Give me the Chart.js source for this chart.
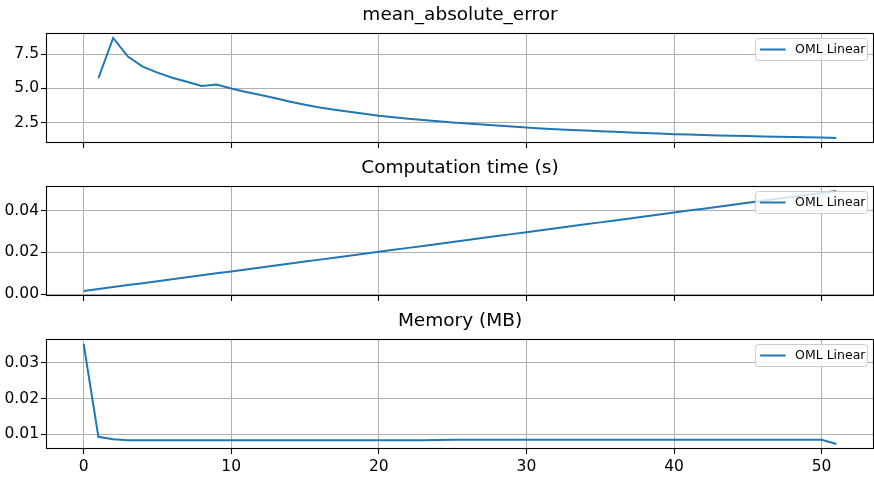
<!DOCTYPE html>
<html><head><meta charset="utf-8">
<script src="https://cdn.jsdelivr.net/npm/chart.js@4/dist/chart.umd.min.js"></script>
<style>
html,body{margin:0;padding:0;background:#fff;}
#wrap{position:relative;width:874px;height:480px;overflow:hidden;background:#fff;}
.p{position:absolute;left:0;width:874px;}
canvas{display:block;}
</style></head><body>
<div id="wrap">
<div class="p" style="top:0px;height:160px"><canvas id="c1" width="874" height="160"></canvas></div>
<div class="p" style="top:153px;height:160px"><canvas id="c2" width="874" height="160"></canvas></div>
<div class="p" style="top:306px;height:174px"><canvas id="c3" width="874" height="174"></canvas></div>
</div>
<script>
// ---- data ----
const steps = [0,1,2,3,4,5,6,7,8,9,10,11,12,13,14,15,16,17,18,19,20,21,22,23,24,25,26,27,28,29,30,31,32,33,34,35,36,37,38,39,40,41,42,43,44,45,46,47,48,49,50,51];
const seriesLabel = 'OML Linear';
const panelTitles = ['mean_absolute_error', 'Computation time (s)', 'Memory (MB)'];
const xTicks = [0, 10, 20, 30, 40, 50];
const maeValues = [null,5.74,8.68,7.32,6.59,6.15,5.78,5.49,5.17,5.29,5.00,4.74,4.52,4.28,4.03,3.80,3.60,3.44,3.30,3.15,3.01,2.90,2.79,2.69,2.60,2.51,2.44,2.37,2.30,2.22,2.14,2.08,2.02,1.97,1.92,1.87,1.83,1.79,1.74,1.70,1.66,1.63,1.60,1.57,1.54,1.52,1.49,1.47,1.45,1.43,1.41,1.38];
const timeValues = [0.00160,0.00254,0.00347,0.00441,0.00534,0.00628,0.00721,0.00815,0.00908,0.01002,0.01095,0.01189,0.01282,0.01376,0.01469,0.01563,0.01656,0.01750,0.01843,0.01937,0.02030,0.02124,0.02217,0.02311,0.02404,0.02498,0.02591,0.02685,0.02778,0.02872,0.02965,0.03059,0.03152,0.03246,0.03339,0.03433,0.03526,0.03620,0.03713,0.03807,0.03900,0.03994,0.04087,0.04181,0.04274,0.04368,0.04461,0.04555,0.04648,0.04742,0.04835,0.04929];
const memoryValues = [0.0353,0.0093,0.0086,0.00835,0.00835,0.00835,0.00835,0.00835,0.00835,0.00835,0.00835,0.00835,0.00835,0.00835,0.00835,0.00835,0.00835,0.00835,0.00835,0.00835,0.00835,0.00835,0.00835,0.00835,0.0084,0.0085,0.0085,0.0085,0.0085,0.0085,0.0085,0.0085,0.0085,0.0085,0.0085,0.0085,0.0085,0.0085,0.0085,0.0085,0.0085,0.0085,0.0085,0.0085,0.0085,0.0085,0.0085,0.0085,0.0085,0.0085,0.0085,0.0073];
const maeTicks = [2.5, 5.0, 7.5];
const timeTicks = [0.00, 0.02, 0.04];
const memoryTicks = [0.01, 0.02, 0.03];

// ---- helpers ----
const FONT = 'DejaVu Sans';
function limits(arr) {
  const v = arr.filter(a => a !== null);
  const lo = Math.min(...v), hi = Math.max(...v), m = (hi - lo) * 0.05;
  return [lo - m, hi + m];
}
const [xMin, xMax] = limits(steps);

const frameLegend = {
  id: 'frameLegend',
  afterDatasetsDraw(chart) {
    const {ctx, chartArea: ca} = chart;
    ctx.save();
    // spines
    ctx.strokeStyle = '#000';
    ctx.lineWidth = 1.1;
    ctx.strokeRect(ca.left + 0.5, ca.top + 0.5, ca.right - ca.left - 1, ca.bottom - ca.top - 1);
    // legend
    const ds = chart.data.datasets[0];
    ctx.font = '12.5px "' + FONT + '"';
    const tw = ctx.measureText(ds.label).width;
    const h = 22, w = 4.5 + 25.5 + 9.5 + tw + 2;
    const x1 = ca.right - 6.5, x0 = x1 - w, y0 = ca.top + 5.5, y1 = y0 + h;
    const r = 3;
    ctx.beginPath();
    ctx.moveTo(x0 + r, y0); ctx.lineTo(x1 - r, y0); ctx.quadraticCurveTo(x1, y0, x1, y0 + r);
    ctx.lineTo(x1, y1 - r); ctx.quadraticCurveTo(x1, y1, x1 - r, y1);
    ctx.lineTo(x0 + r, y1); ctx.quadraticCurveTo(x0, y1, x0, y1 - r);
    ctx.lineTo(x0, y0 + r); ctx.quadraticCurveTo(x0, y0, x0 + r, y0);
    ctx.closePath();
    ctx.fillStyle = 'rgba(255,255,255,0.8)';
    ctx.fill();
    ctx.strokeStyle = '#cccccc';
    ctx.lineWidth = 1;
    ctx.stroke();
    const cy = y0 + h / 2;
    ctx.strokeStyle = ds.borderColor;
    ctx.lineWidth = ds.borderWidth;
    ctx.beginPath(); ctx.moveTo(x0 + 4.5, cy); ctx.lineTo(x0 + 30, cy); ctx.stroke();
    ctx.fillStyle = '#000';
    ctx.textAlign = 'left';
    ctx.textBaseline = 'middle';
    ctx.fillText(ds.label, x0 + 39.5, cy + 0.5);
    ctx.restore();
  }
};

function makePanel(id, title, values, yTicks, decimals, showX, xAxisHeight) {
  const [yMin, yMax] = limits(values);
  return new Chart(document.getElementById(id), {
    type: 'line',
    data: {
      datasets: [{
        label: seriesLabel,
        data: steps.map((x, i) => ({x: x, y: values[i]})),
        borderColor: '#1f77b4',
        borderWidth: 2,
        pointRadius: 0,
        tension: 0,
        fill: false,
        spanGaps: false
      }]
    },
    options: {
      responsive: false,
      animation: false,
      devicePixelRatio: 1,
      layout: {padding: {left: 0, right: 0, top: 0, bottom: 0}},
      plugins: {
        legend: {display: false},
        tooltip: {enabled: false},
        title: {
          display: true, text: title, fullSize: false, color: '#000',
          font: {family: FONT, size: 18.5, weight: 'normal'},
          padding: {top: 4.5, bottom: 6.3}
        }
      },
      scales: {
        x: {
          type: 'linear', min: xMin, max: xMax,
          afterBuildTicks: ax => { ax.ticks = xTicks.map(v => ({value: v})); },
          afterFit: ax => { ax.height = xAxisHeight; },
          ticks: {display: showX, autoSkip: false, maxRotation: 0, color: '#000', padding: 4,
                  font: {family: FONT, size: 15.5}, callback: v => String(v)},
          grid: {color: '#b0b0b0', lineWidth: 1, tickColor: '#000', tickLength: 5, tickWidth: 1.1},
          border: {display: false}
        },
        y: {
          type: 'linear', min: yMin, max: yMax,
          afterBuildTicks: ax => { ax.ticks = yTicks.map(v => ({value: v})); },
          afterFit: ax => { ax.width = 46; },
          ticks: {autoSkip: false, color: '#000', padding: 2,
                  font: {family: FONT, size: 15.5}, callback: v => Number(v).toFixed(decimals)},
          grid: {color: '#b0b0b0', lineWidth: 1, tickColor: '#000', tickLength: 5, tickWidth: 1.1},
          border: {display: false}
        }
      }
    },
    plugins: [frameLegend]
  });
}

makePanel('c1', panelTitles[0], maeValues, maeTicks, 1, false, 17);
makePanel('c2', panelTitles[1], timeValues, timeTicks, 2, false, 17);
makePanel('c3', panelTitles[2], memoryValues, memoryTicks, 2, true, 31);
</script>
</body></html>
